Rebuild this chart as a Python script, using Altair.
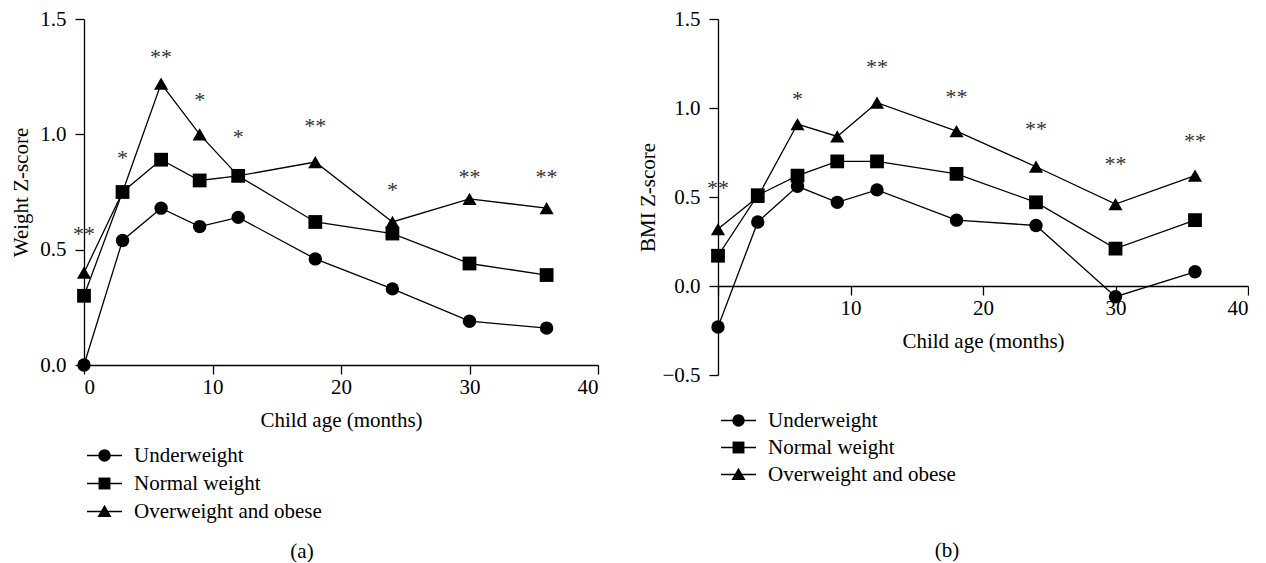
import altair as alt
import pandas as pd

# ---------------- data ----------------
ages = [0, 3, 6, 9, 12, 18, 24, 30, 36]
groups = ["Underweight", "Normal weight", "Overweight and obese"]

weight_under = [0.00, 0.54, 0.68, 0.60, 0.64, 0.46, 0.33, 0.19, 0.16]
weight_normal = [0.30, 0.75, 0.89, 0.80, 0.82, 0.62, 0.57, 0.44, 0.39]
weight_over = [0.40, 0.75, 1.22, 1.00, 0.82, 0.88, 0.62, 0.72, 0.68]

bmi_under = [-0.23, 0.36, 0.56, 0.47, 0.54, 0.37, 0.34, -0.06, 0.08]
bmi_normal = [0.17, 0.51, 0.62, 0.70, 0.70, 0.63, 0.47, 0.21, 0.37]
bmi_over = [0.32, 0.50, 0.91, 0.84, 1.03, 0.87, 0.67, 0.46, 0.62]

weight_sig_ages = [0, 3, 6, 9, 12, 18, 24, 30, 36]
weight_sig = ["**", "*", "**", "*", "*", "**", "*", "**", "**"]
weight_sig_y = [0.58, 0.91, 1.35, 1.16, 1.00, 1.05, 0.77, 0.83, 0.83]

bmi_sig_ages = [0, 6, 12, 18, 24, 30, 36]
bmi_sig = ["**", "*", "**", "**", "**", "**", "**"]
bmi_sig_y = [0.57, 1.07, 1.25, 1.08, 0.90, 0.70, 0.83]

x_ticks = [0, 10, 20, 30, 40]
weight_y_ticks = [0.0, 0.5, 1.0, 1.5]
bmi_y_ticks = [-0.5, 0.0, 0.5, 1.0, 1.5]

FONT = "Liberation Serif"
FS = 21

# legend symbols (unit box scaled by sqrt(size)/2): filled marker + a short line
MARKER_PATHS = [
    "M0.88,0A0.88,0.88,0,1,1,-0.88,0A0.88,0.88,0,1,1,0.88,0Z",
    "M-0.85,-0.85H0.85V0.85H-0.85Z",
    "M0,-0.95L1.0,0.8L-1.0,0.8Z",
]
LINE_PATH = "M-2.5,0H2.5"


def make_df(series):
    rows = []
    for g, vals in zip(groups, series):
        for a, v in zip(ages, vals):
            rows.append({"age": a, "z": v, "group": g})
    return pd.DataFrame(rows)


def legend(lx, ly, row_pad, label_opacity):
    return alt.Legend(title=None, orient="none", legendX=lx, legendY=ly,
                      symbolSize=196, labelFont=FONT, labelFontSize=FS,
                      labelColor="black", labelOffset=19, labelLimit=0,
                      rowPadding=row_pad, labelOpacity=label_opacity)


def panel(df, sig_df, ytitle, ydomain, yvals, width, height, x_offset,
          hide_zero, legend_x, legend_y, row_pad, caption, cap_x, cap_y, ytitle_pad):
    xaxis_kw = dict(values=x_ticks, title="Child age (months)", offset=x_offset,
                    labelPadding=2, titlePadding=12)
    if hide_zero:
        xaxis_kw["labelExpr"] = "datum.value == 0 ? '' : datum.label"
    x = alt.X("age:Q", scale=alt.Scale(domain=[0, 40], nice=False, zero=False),
              axis=alt.Axis(**xaxis_kw))
    y = alt.Y("z:Q", scale=alt.Scale(domain=ydomain, nice=False, zero=False),
              axis=alt.Axis(values=yvals, format=".1f", title=ytitle,
                            labelPadding=9, titlePadding=ytitle_pad))

    base = alt.Chart(df)
    lines = base.mark_line(color="black", strokeWidth=1.3).encode(
        x=x, y=y, detail="group:N")
    pts = base.mark_point(filled=True, color="black", opacity=1).encode(
        x=x, y=y,
        shape=alt.Shape("group:N", scale=alt.Scale(domain=groups,
                        range=["circle", "square", "triangle-up"]), legend=None),
        size=alt.Size("group:N", scale=alt.Scale(domain=groups,
                      range=[180, 200, 240]), legend=None),
    )
    # legend-only layers (their marks are placed outside the clipped plot area)
    leg_line = base.mark_point(filled=False, color="black", strokeWidth=1.3,
                               opacity=1, size=196, clip=True).encode(
        x=x, y=alt.value(-3000),
        shape=alt.Shape("group:N", scale=alt.Scale(domain=groups,
                        range=[LINE_PATH] * 3),
                        legend=legend(legend_x, legend_y, row_pad, 0)),
    )
    leg_mark = base.mark_point(filled=True, color="black", opacity=1, size=196,
                               clip=True).encode(
        x=x, y=alt.value(-3000),
        shape=alt.Shape("group:N", scale=alt.Scale(domain=groups, range=MARKER_PATHS),
                        legend=legend(legend_x, legend_y, row_pad, 1)),
    )
    stars = alt.Chart(sig_df).mark_text(font=FONT, fontSize=22, color="#333333",
                                        baseline="alphabetic", dy=10).encode(
        x=x, y=y, text="label:N")
    cap = alt.Chart(pd.DataFrame({"t": [caption]})).mark_text(
        font=FONT, fontSize=FS, color="black", baseline="middle").encode(
        x=alt.value(cap_x), y=alt.value(cap_y), text="t:N")

    return alt.layer(lines, pts, leg_line, leg_mark, stars, cap).resolve_scale(
        shape="independent", size="independent").properties(width=width, height=height)


wdf = make_df([weight_under, weight_normal, weight_over])
bdf = make_df([bmi_under, bmi_normal, bmi_over])
wsig = pd.DataFrame({"age": weight_sig_ages, "z": weight_sig_y, "label": weight_sig})
bsig = pd.DataFrame({"age": bmi_sig_ages, "z": bmi_sig_y, "label": bmi_sig})

left = panel(wdf, wsig, "Weight Z-score", [0, 1.5], weight_y_ticks, 514, 346, 0,
             False, 10, 426, 6, "(a)", 218, 533, 8)
right = panel(bdf, bsig, "BMI Z-score", [-0.5, 1.5], bmi_y_ticks, 530, 356, -89,
              True, 10, 391, 5, "(b)", 229, 532, 3)

chart = alt.hconcat(left, right, spacing=38).resolve_scale(
    shape="independent", size="independent").resolve_legend(shape="independent").properties(
    padding={"left": 2, "top": 0, "right": 0, "bottom": 0}
).configure_view(stroke=None).configure_axis(
    grid=False, domainColor="black", tickColor="black", domainWidth=1.3,
    tickWidth=1.3, tickSize=9, labelFont=FONT, labelFontSize=FS, labelColor="black",
    titleFont=FONT, titleFontSize=FS, titleFontWeight="normal", titleColor="black",
)

chart.save("out.html", embed_options={"renderer": "svg", "actions": False})
